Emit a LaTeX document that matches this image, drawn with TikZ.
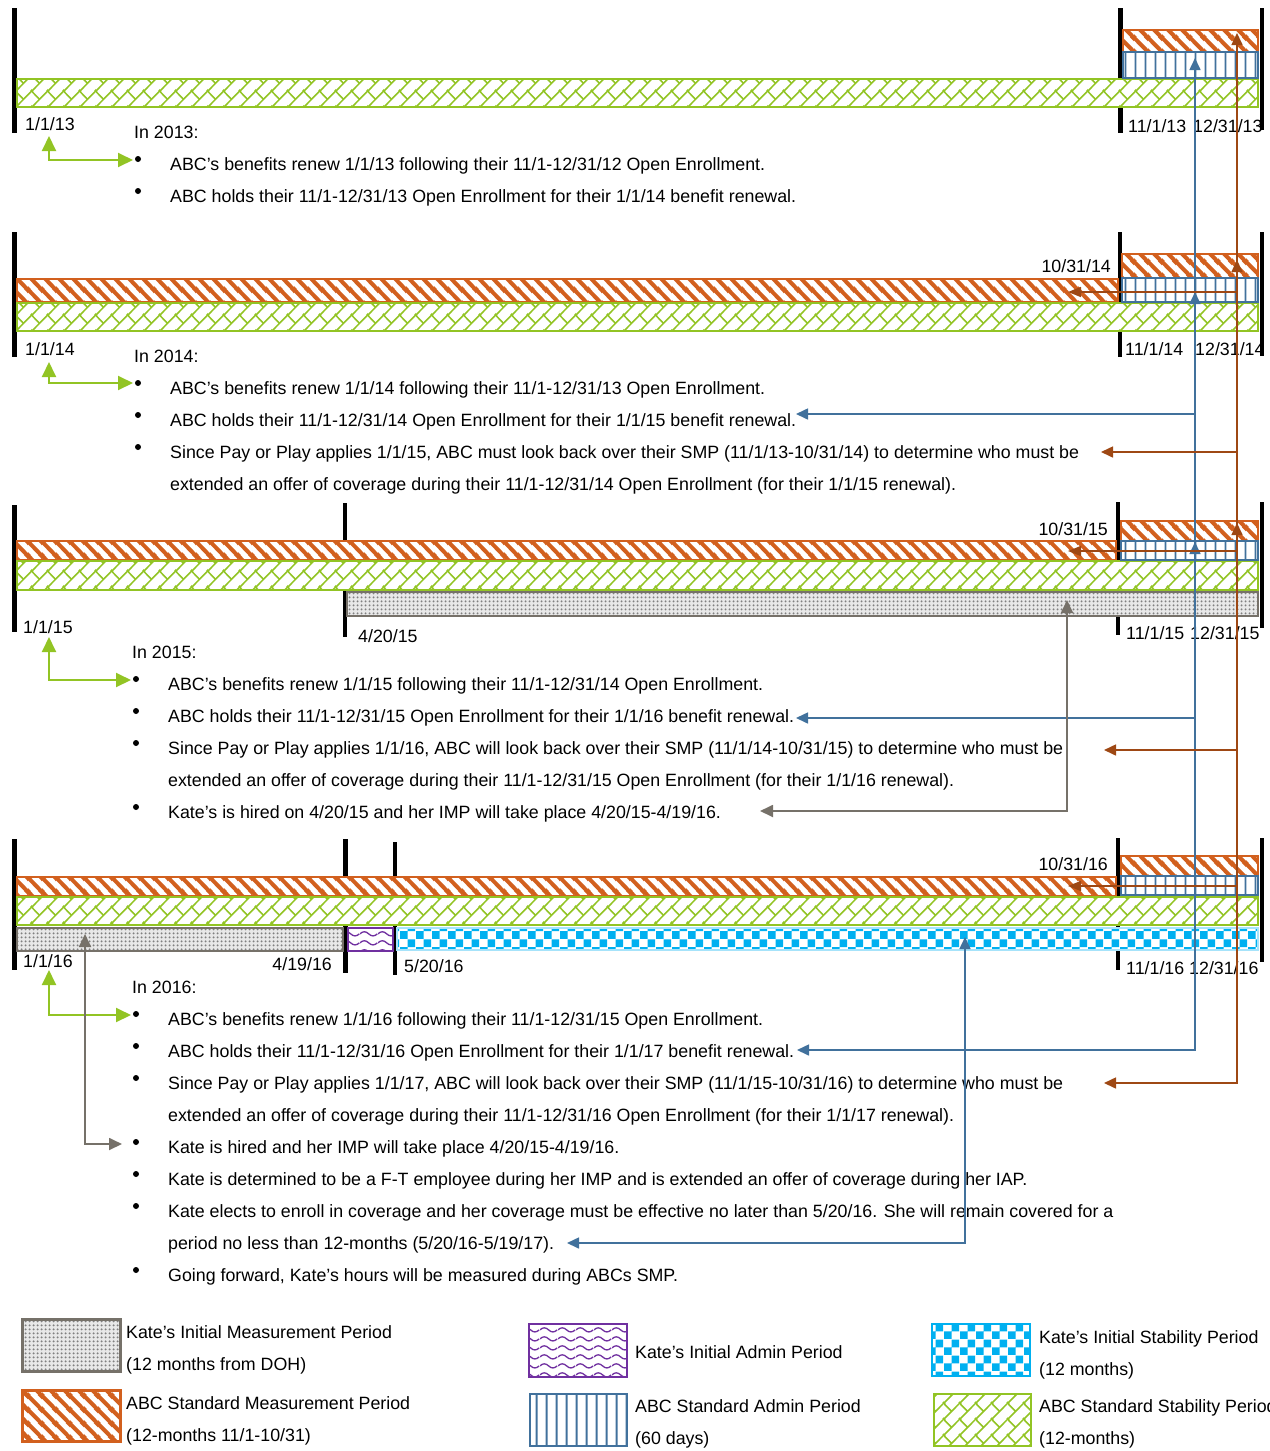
\documentclass[tikz,border=0pt]{standalone}
\usepackage{fontspec}
\setmainfont{Liberation Sans}
\usetikzlibrary{patterns,arrows.meta}

\definecolor{smporange}{RGB}{210,96,30}
\definecolor{arrbrown}{RGB}{158,72,20}
\definecolor{admblue}{RGB}{65,113,156}
\definecolor{stabgreen}{RGB}{146,196,36}
\definecolor{imgray}{RGB}{118,113,105}
\definecolor{iapurple}{RGB}{112,48,160}
\definecolor{iscyan}{RGB}{0,176,240}

\pgfdeclarepatternformonly{smpstripes}{\pgfpointorigin}{\pgfpoint{14pt}{14pt}}{\pgfpoint{14pt}{14pt}}{%
  \pgfsetlinewidth{4.2pt}%
  \pgfpathmoveto{\pgfpoint{-3pt}{17pt}}\pgfpathlineto{\pgfpoint{17pt}{-3pt}}%
  \pgfpathmoveto{\pgfpoint{-3pt}{3pt}}\pgfpathlineto{\pgfpoint{3pt}{-3pt}}%
  \pgfpathmoveto{\pgfpoint{11pt}{17pt}}\pgfpathlineto{\pgfpoint{17pt}{11pt}}%
  \pgfusepath{stroke}}
\pgfdeclarepatternformonly{admlines}{\pgfpointorigin}{\pgfpoint{9.5pt}{10pt}}{\pgfpoint{9.5pt}{10pt}}{%
  \pgfsetlinewidth{2pt}%
  \pgfpathmoveto{\pgfpoint{4.75pt}{-1pt}}\pgfpathlineto{\pgfpoint{4.75pt}{11pt}}%
  \pgfusepath{stroke}}
\pgfdeclarepatternformonly{stabbrick}{\pgfpointorigin}{\pgfpoint{16pt}{16pt}}{\pgfpoint{16pt}{16pt}}{%
  \pgfsetlinewidth{1.6pt}%
  \pgfpathmoveto{\pgfpoint{-2pt}{-2pt}}\pgfpathlineto{\pgfpoint{18pt}{18pt}}%
  \pgfpathmoveto{\pgfpoint{14pt}{-2pt}}\pgfpathlineto{\pgfpoint{18pt}{2pt}}%
  \pgfpathmoveto{\pgfpoint{-2pt}{14pt}}\pgfpathlineto{\pgfpoint{2pt}{18pt}}%
  \pgfpathmoveto{\pgfpoint{8pt}{8pt}}\pgfpathlineto{\pgfpoint{0pt}{16pt}}%
  \pgfusepath{stroke}}
\pgfdeclarepatternformonly{imdots}{\pgfpointorigin}{\pgfpoint{4pt}{4pt}}{\pgfpoint{4pt}{4pt}}{%
  \pgfpathcircle{\pgfpoint{2pt}{2pt}}{1.3pt}%
  \pgfusepath{fill}}
\pgfdeclarepatternformonly{iawaves}{\pgfpointorigin}{\pgfpoint{18pt}{9pt}}{\pgfpoint{18pt}{9pt}}{%
  \pgfsetlinewidth{1.4pt}%
  \pgfpathmoveto{\pgfpoint{0pt}{4.5pt}}%
  \pgfpathcurveto{\pgfpoint{3pt}{7.5pt}}{\pgfpoint{6pt}{7.5pt}}{\pgfpoint{9pt}{4.5pt}}%
  \pgfpathcurveto{\pgfpoint{12pt}{1.5pt}}{\pgfpoint{15pt}{1.5pt}}{\pgfpoint{18pt}{4.5pt}}%
  \pgfusepath{stroke}}
\pgfdeclarepatternformonly{ischecks}{\pgfpointorigin}{\pgfpoint{16pt}{16pt}}{\pgfpoint{16pt}{16pt}}{%
  \pgfpathrectangle{\pgfpointorigin}{\pgfpoint{8pt}{8pt}}%
  \pgfpathrectangle{\pgfpoint{8pt}{8pt}}{\pgfpoint{8pt}{8pt}}%
  \pgfusepath{fill}}

\begin{document}
\begin{tikzpicture}[x=1pt,y=-1pt,
  txt/.style={anchor=base west,inner sep=0pt,font=\fontsize{17.8}{20}\selectfont},
  txtr/.style={txt,anchor=base east},
  datebar/.style={line width=4.5pt},
  smpbar/.style={draw=smporange,line width=2pt,preaction={fill=white},pattern=smpstripes,pattern color=smporange},
  admbar/.style={draw=admblue,line width=1.5pt,preaction={fill=white},pattern=admlines,pattern color=admblue},
  stabbar/.style={draw=stabgreen,line width=2.2pt,preaction={fill=white},pattern=stabbrick,pattern color=stabgreen},
  imbar/.style={draw=imgray,line width=2.2pt,preaction={fill=gray!18},pattern=imdots,pattern color=gray},
  iabar/.style={draw=iapurple,line width=2pt,preaction={fill=white},pattern=iawaves,pattern color=iapurple},
  isbar/.style={draw=iscyan!35,line width=1.2pt,preaction={fill=white},pattern=ischecks,pattern color=iscyan},
  greenconn/.style={draw=stabgreen,line width=2pt,<->,>={Triangle[length=15pt,width=14pt]}},
  blueconn/.style={draw=admblue,line width=1.6pt,<->,>={Triangle[length=12pt,width=11pt]}},
  brownconn/.style={draw=arrbrown,line width=1.6pt,<->,>={Triangle[length=12pt,width=11pt]}},
  brownback/.style={draw=arrbrown,line width=1.6pt,->,>={Triangle[length=13pt,width=10pt]}},
  grayconn/.style={draw=imgray,line width=1.8pt,<->,>={Triangle[length=13pt,width=12pt]}}]
\useasboundingbox (0,0) rectangle (1269,1451);

% 2013
\draw[datebar] (14.5,8) -- (14.5,133) (1120.5,8) -- (1120.5,133) (1262,8) -- (1262,130);
\draw[stabbar] (17,79) rectangle (1258,107);
\draw[smpbar] (1123,30) rectangle (1258,52);
\draw[admbar] (1123,52) rectangle (1258,78);
\node[txt] (d13a) at (25,130) {1/1/13};
\node[txt] (d13b) at (1128,132) {11/1/13};
\node[txt] (d13c) at (1193,132) {12/31/13};
\node[txt] (h13) at (134,138) {In 2013:};
\foreach \y in {170,202} \fill (138,\y-11) circle (3pt);
\node[txt] (t13a) at (170,170) {ABC’s benefits renew 1/1/13 following their 11/1-12/31/12 Open Enrollment.};
\node[txt] (t13b) at (170,202) {ABC holds their 11/1-12/31/13 Open Enrollment for their 1/1/14 benefit renewal.};

% 2014
\draw[datebar] (14.5,232) -- (14.5,357) (1120,232) -- (1120,357) (1262,232) -- (1262,356);
\draw[smpbar] (17,279) rectangle (1118,302);
\draw[stabbar] (17,303) rectangle (1258,331);
\draw[smpbar] (1122,254) rectangle (1258,278);
\draw[admbar] (1122,278) rectangle (1258,302);
\node[txt] (d14a) at (25,355) {1/1/14};
\node[txtr] (d14b) at (1111,272) {10/31/14};
\node[txt] (d14c) at (1125,355) {11/1/14};
\node[txt] (d14d) at (1195,355) {12/31/14};
\node[txt] (h14) at (134,362) {In 2014:};
\foreach \y in {394,426,458} \fill (138,\y-11) circle (3pt);
\node[txt] (t14a) at (170,394) {ABC’s benefits renew 1/1/14 following their 11/1-12/31/13 Open Enrollment.};
\node[txt] (t14b) at (170,426) {ABC holds their 11/1-12/31/14 Open Enrollment for their 1/1/15 benefit renewal.};
\node[txt] (t14c) at (170,458) {Since Pay or Play applies 1/1/15, ABC must look back over their SMP (11/1/13-10/31/14) to determine who must be};
\node[txt] (t14d) at (170,490) {extended an offer of coverage during their 11/1-12/31/14 Open Enrollment (for their 1/1/15 renewal).};

% 2015
\draw[datebar] (14.5,505) -- (14.5,632) (345,503) -- (345,637) (1118,502) -- (1118,635) (1262,502) -- (1262,628);
\draw[smpbar] (17,541) rectangle (1116,560);
\draw[stabbar] (17,561) rectangle (1258,590);
\draw[imbar] (347,592) rectangle (1258,616);
\draw[smpbar] (1121,521) rectangle (1258,541);
\draw[admbar] (1121,541) rectangle (1258,560);
\node[txt] (d15a) at (23,633) {1/1/15};
\node[txt] (d15b) at (358,642) {4/20/15};
\node[txtr] (d15c) at (1108,535) {10/31/15};
\node[txt] (d15d) at (1126,639) {11/1/15};
\node[txt] (d15e) at (1190,639) {12/31/15};
\node[txt] (h15) at (132,658) {In 2015:};
\foreach \y in {690,722,754,818} \fill (136,\y-11) circle (3pt);
\node[txt] (t15a) at (168,690) {ABC’s benefits renew 1/1/15 following their 11/1-12/31/14 Open Enrollment.};
\node[txt] (t15b) at (168,722) {ABC holds their 11/1-12/31/15 Open Enrollment for their 1/1/16 benefit renewal.};
\node[txt] (t15c) at (168,754) {Since Pay or Play applies 1/1/16, ABC will look back over their SMP (11/1/14-10/31/15) to determine who must be};
\node[txt] (t15d) at (168,786) {extended an offer of coverage during their 11/1-12/31/15 Open Enrollment (for their 1/1/16 renewal).};
\node[txt] (t15e) at (168,818) {Kate’s is hired on 4/20/15 and her IMP will take place 4/20/15-4/19/16.};

% 2016
\draw[datebar] (14.5,839) -- (14.5,970) (345.5,839) -- (345.5,973) (395,842) -- (395,975) (1118,838) -- (1118,970) (1262,838) -- (1262,962);
\draw[smpbar] (17,877) rectangle (1116,896);
\draw[stabbar] (17,897) rectangle (1258,925);
\draw[imbar] (17,928) rectangle (343,951);
\draw[iabar] (348,928) rectangle (393,951);
\draw[isbar] (397,928) rectangle (1258,950);
\draw[smpbar] (1121,856) rectangle (1258,876);
\draw[admbar] (1121,876) rectangle (1258,895);
\node[txt] (d16a) at (23,967) {1/1/16};
\node[txtr] (d16b) at (332,970) {4/19/16};
\node[txt] (d16c) at (404,972) {5/20/16};
\node[txtr] (d16d) at (1108,870) {10/31/16};
\node[txt] (d16e) at (1126,974) {11/1/16};
\node[txt] (d16f) at (1189,974) {12/31/16};
\node[txt] (h16) at (132,993) {In 2016:};
\foreach \y in {1025,1057,1089,1153,1185,1217,1281} \fill (136,\y-11) circle (3pt);
\node[txt] (t16a) at (168,1025) {ABC’s benefits renew 1/1/16 following their 11/1-12/31/15 Open Enrollment.};
\node[txt] (t16b) at (168,1057) {ABC holds their 11/1-12/31/16 Open Enrollment for their 1/1/17 benefit renewal.};
\node[txt] (t16c) at (168,1089) {Since Pay or Play applies 1/1/17, ABC will look back over their SMP (11/1/15-10/31/16) to determine who must be};
\node[txt] (t16d) at (168,1121) {extended an offer of coverage during their 11/1-12/31/16 Open Enrollment (for their 1/1/17 renewal).};
\node[txt] (t16e) at (168,1153) {Kate is hired and her IMP will take place 4/20/15-4/19/16.};
\node[txt] (t16f) at (168,1185) {Kate is determined to be a F-T employee during her IMP and is extended an offer of coverage during her IAP.};
\node[txt] (t16g) at (168,1217) {Kate elects to enroll in coverage and her coverage must be effective no later than 5/20/16. She will remain covered for a};
\node[txt] (t16h) at (168,1249) {period no less than 12-months (5/20/16-5/19/17).};
\node[txt] (t16i) at (168,1281) {Going forward, Kate’s hours will be measured during ABCs SMP.};

% connectors
\path (49,136) coordinate (g1a) (49,160) coordinate (g1b) (133,160) coordinate (g1c)
  (49,362) coordinate (g2a) (49,383) coordinate (g2b) (133,383) coordinate (g2c)
  (49,637) coordinate (g3a) (49,680) coordinate (g3b) (131,680) coordinate (g3c)
  (49,970) coordinate (g4a) (49,1015) coordinate (g4b) (131,1015) coordinate (g4c);
\draw[greenconn] (g1a) -- (g1b) -- (g1c);
\draw[greenconn] (g2a) -- (g2b) -- (g2c);
\draw[greenconn] (g3a) -- (g3b) -- (g3c);
\draw[greenconn] (g4a) -- (g4b) -- (g4c);

\path (796,414) coordinate (b1a) (1195,414) coordinate (b1b) (1195,58) coordinate (b1c)
  (796,718) coordinate (b2a) (1195,718) coordinate (b2b) (1195,292) coordinate (b2c)
  (797,1050) coordinate (b3a) (1195,1050) coordinate (b3b) (1195,542) coordinate (b3c)
  (567,1243) coordinate (k1a) (965,1243) coordinate (k1b) (965,937) coordinate (k1c);
\draw[blueconn] (b1a) -- (b1b) -- (b1c);
\draw[blueconn] (b2a) -- (b2b) -- (b2c);
\draw[blueconn] (b3a) -- (b3b) -- (b3c);
\draw[blueconn] (k1a) -- (k1b) -- (k1c);

\path (1101,452) coordinate (r1a) (1237,452) coordinate (r1b) (1237,33) coordinate (r1c)
  (1104,750) coordinate (r2a) (1237,750) coordinate (r2b) (1237,260) coordinate (r2c)
  (1104,1083) coordinate (r3a) (1237,1083) coordinate (r3b) (1237,523) coordinate (r3c)
  (1068,292) coordinate (e14) (1068,551) coordinate (e15) (1068,886) coordinate (e16);
\draw[brownconn] (r1a) -- (r1b) -- (r1c);
\draw[brownconn] (r2a) -- (r2b) -- (r2c);
\draw[brownconn] (r3a) -- (r3b) -- (r3c);
\draw[brownback] (1237,292) -- (e14);
\draw[brownback] (1237,551) -- (e15);
\draw[brownback] (1237,886) -- (e16);

\path (760,811) coordinate (m1a) (1067,811) coordinate (m1b) (1067,600) coordinate (m1c)
  (122,1144) coordinate (m2a) (85,1144) coordinate (m2b) (85,934) coordinate (m2c);
\draw[grayconn] (m1a) -- (m1b) -- (m1c);
\draw[grayconn] (m2a) -- (m2b) -- (m2c);

% legend
\draw[imbar,line width=3pt] (22,1319) rectangle (120,1371);
\draw[smpbar,line width=3pt] (22,1390) rectangle (120,1441);
\draw[iabar,line width=2.5pt] (529,1324) rectangle (627,1377);
\draw[admbar,line width=2.5pt] (530,1394) rectangle (627,1446);
\draw[isbar,line width=2pt,draw=iscyan] (932,1324) rectangle (1030,1376);
\draw[stabbar,line width=2.5pt] (934,1394) rectangle (1031,1446);
\node[txt] (l1a) at (126,1338) {Kate’s Initial Measurement Period};
\node[txt] (l1b) at (126,1370) {(12 months from DOH)};
\node[txt] (l2a) at (126,1409) {ABC Standard Measurement Period};
\node[txt] (l2b) at (126,1441) {(12-months 11/1-10/31)};
\node[txt] (l3a) at (635,1358) {Kate’s Initial Admin Period};
\node[txt] (l4a) at (635,1412) {ABC Standard Admin Period};
\node[txt] (l4b) at (635,1444) {(60 days)};
\node[txt] (l5a) at (1039,1343) {Kate’s Initial Stability Period};
\node[txt] (l5b) at (1039,1375) {(12 months)};
\node[txt] (l6a) at (1039,1412) {ABC Standard Stability Period};
\node[txt] (l6b) at (1039,1444) {(12-months)};
\end{tikzpicture}
\end{document}
